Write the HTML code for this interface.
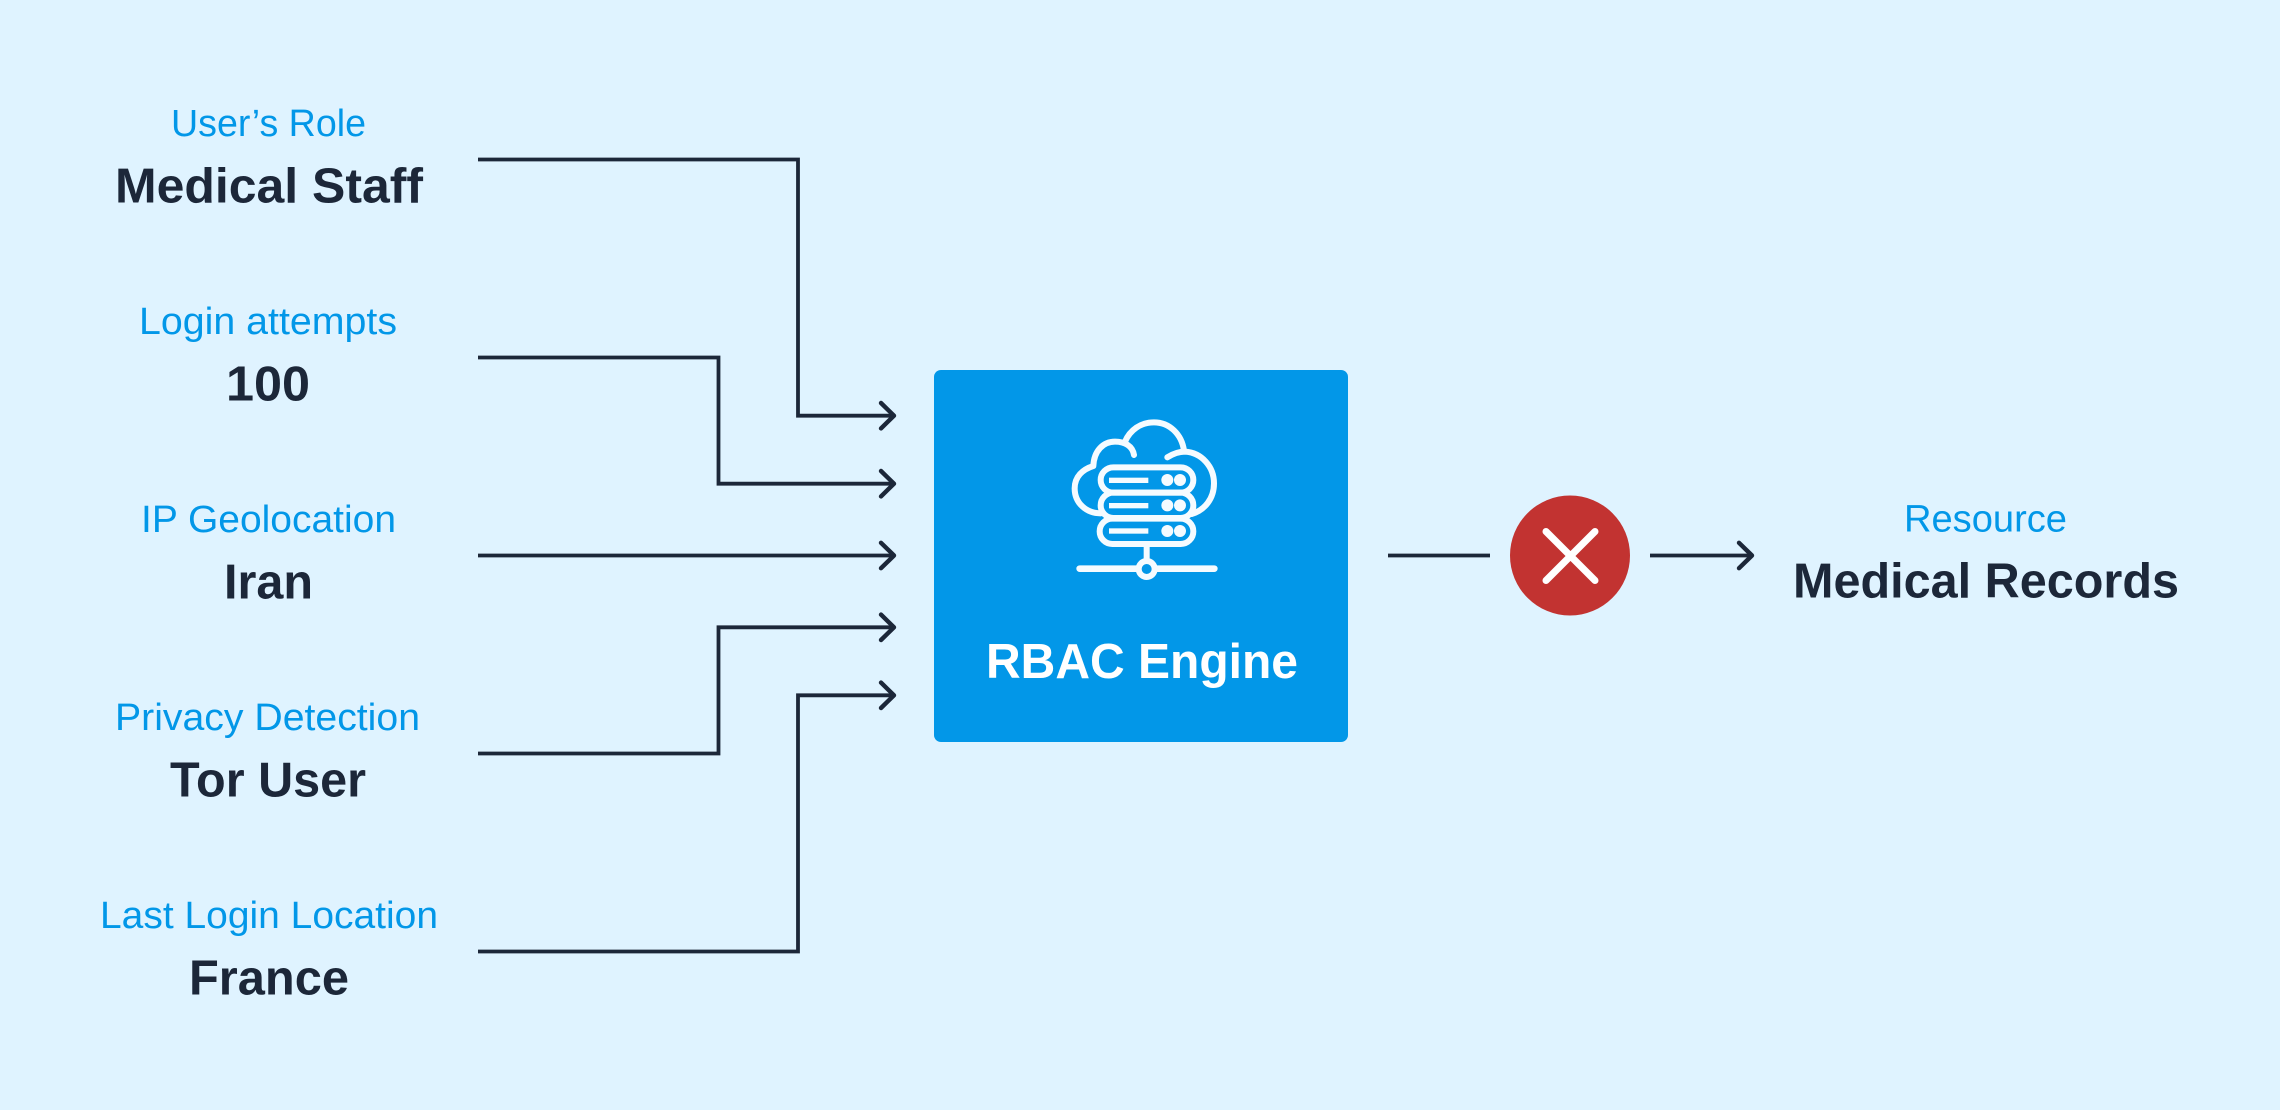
<!DOCTYPE html>
<html><head><meta charset="utf-8"><style>
html,body{margin:0;padding:0;background:#dff3ff}
svg{display:block}
text{font-family:"Liberation Sans",sans-serif}
.l{font-size:38px;fill:#0297e8}
.b{font-size:49px;font-weight:700;fill:#1c2739}
</style></head><body>
<svg width="2280" height="1110" viewBox="0 0 2280 1110" xmlns="http://www.w3.org/2000/svg">
<rect width="2280" height="1110" fill="#dff3ff"/>
<text class="l" x="171" y="136" textLength="195" lengthAdjust="spacingAndGlyphs">User’s Role</text>
<text class="b" x="115" y="202.7" textLength="308" lengthAdjust="spacingAndGlyphs">Medical Staff</text>
<text class="l" x="139" y="334" textLength="258" lengthAdjust="spacingAndGlyphs">Login attempts</text>
<text class="b" x="226" y="400.7" textLength="84" lengthAdjust="spacingAndGlyphs">100</text>
<text class="l" x="141" y="532" textLength="255" lengthAdjust="spacingAndGlyphs">IP Geolocation</text>
<text class="b" x="224" y="598.7" textLength="89" lengthAdjust="spacingAndGlyphs">Iran</text>
<text class="l" x="115" y="730" textLength="305" lengthAdjust="spacingAndGlyphs">Privacy Detection</text>
<text class="b" x="170" y="796.7" textLength="196" lengthAdjust="spacingAndGlyphs">Tor User</text>
<text class="l" x="100" y="928" textLength="338" lengthAdjust="spacingAndGlyphs">Last Login Location</text>
<text class="b" x="189" y="994.7" textLength="160" lengthAdjust="spacingAndGlyphs">France</text>
<text class="l" x="1904" y="531.7" textLength="163" lengthAdjust="spacingAndGlyphs">Resource</text>
<text class="b" x="1793" y="597.7" textLength="386" lengthAdjust="spacingAndGlyphs">Medical Records</text>

<g fill="none" stroke="#1c2739" stroke-width="3.8">
<path d="M478 159.5H798V415.7H893"/>
<path d="M478 357.5H718.5V483.7H893"/>
<path d="M478 555.5H893"/>
<path d="M478 753.5H718.5V627.3H893"/>
<path d="M478 951.5H798V695.3H893"/>
<path d="M1388 555.5H1490"/>
<path d="M1650 555.5H1751"/>
<g stroke-linecap="round" stroke-linejoin="round" stroke-width="4.4">
<path d="M881 403L894 415.7L881 428.4"/>
<path d="M881 471L894 483.7L881 496.4"/>
<path d="M881 542.8L894 555.5L881 568.2"/>
<path d="M881 614.6L894 627.3L881 640"/>
<path d="M881 682.6L894 695.3L881 708"/>
<path d="M1739 542.8L1752 555.5L1739 568.2"/>
</g>
</g>

<rect x="934" y="370" width="414" height="372" rx="7" fill="#0297e8"/>
<g transform="translate(930 360) scale(.33333)" fill="none" stroke="#f5fbff" stroke-width="18" stroke-linecap="round" stroke-linejoin="round">
<path d="M612 285C608 258 585 245 555 245C520 245 492 272 490 318C458 328 434 350 434 385C434 430 470 460 512 460"/>
<path d="M585 245C600 210 632 187 672 187C718 187 755 222 762 272"/>
<path d="M712 292C728 282 745 275 765 275C815 278 852 320 852 370C852 415 825 450 785 462"/>
<rect x="512" y="322" width="278" height="76" rx="38"/>
<rect x="512" y="398" width="278" height="76" rx="38"/>
<rect x="509" y="476" width="281" height="76" rx="38"/>
<path d="M650 552V600"/>
<path d="M449 626H624M680 626H853" stroke-width="20"/>
<circle cx="650" cy="627" r="24" stroke-width="18" fill="#0297e8"/>
<g stroke="none" fill="#f5fbff">
<rect x="537" y="353" width="118" height="16"/>
<rect x="537" y="429" width="118" height="16"/>
<rect x="537" y="505" width="118" height="16"/>
<circle cx="712" cy="360" r="18"/><circle cx="750" cy="360" r="18"/>
<circle cx="712" cy="436" r="18"/><circle cx="750" cy="436" r="18"/>
<circle cx="712" cy="513" r="18"/><circle cx="750" cy="513" r="18"/>
</g>
</g>
<text x="986" y="678" font-size="49" font-weight="700" fill="#fff" textLength="312" lengthAdjust="spacingAndGlyphs">RBAC Engine</text>

<circle cx="1570" cy="555.5" r="60" fill="#c23331"/>
<path d="M1546 531.5L1595 580.5M1595 531.5L1546 580.5" stroke="#fff" stroke-width="7" stroke-linecap="round" fill="none"/>
</svg>
</body></html>
